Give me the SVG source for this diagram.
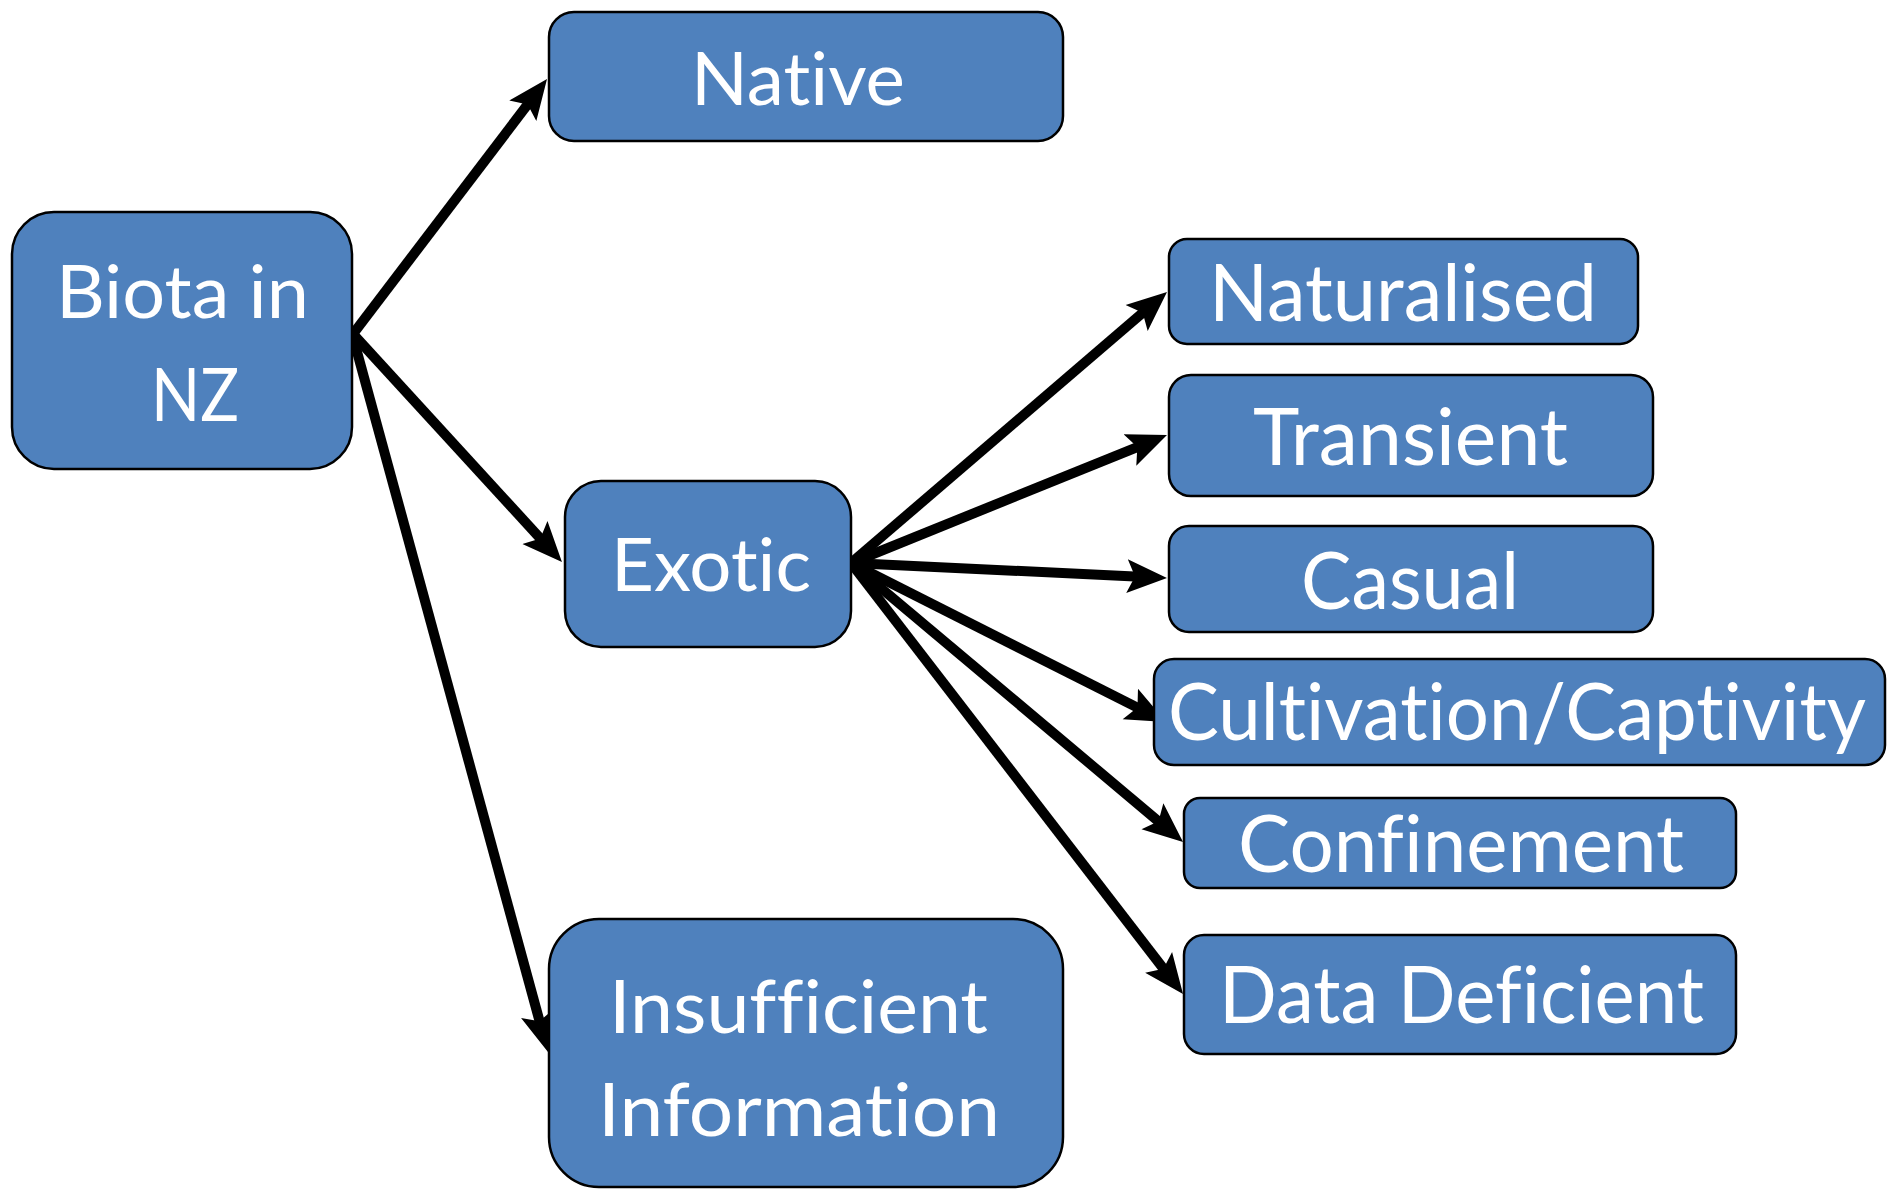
<svg xmlns="http://www.w3.org/2000/svg" width="1887" height="1189" viewBox="0 0 1887 1189">
<style>
.box{fill:#4F81BD;stroke:#000;stroke-width:2.5}
.t{font-family:Lato,"Open Sans","Liberation Sans",sans-serif;fill:#fff;font-variant-ligatures:none;font-feature-settings:"liga" 0,"clig" 0}
.l{font-size:74px}
.r{font-size:80px}
</style>
<defs>
<marker id="ah" markerUnits="userSpaceOnUse" markerWidth="40" markerHeight="40" viewBox="0 0 40 40" refX="18" refY="20" orient="auto">
<path d="M0,3 L40,20 L0,37 L8,20 Z" fill="#000"/>
</marker>
</defs>
<g id="connectors" stroke="#000" stroke-width="10" fill="none" marker-end="url(#ah)">
<line x1="353" y1="334" x2="533.7" y2="96.5"/>
<line x1="353" y1="334" x2="547.1" y2="545.8"/>
<line x1="353" y1="337" x2="542.2" y2="1030.8"/>
<line x1="851" y1="563" x2="1150.3" y2="306.3"/>
<line x1="851" y1="563" x2="1146.6" y2="443.3"/>
<line x1="851" y1="563" x2="1145.0" y2="577.0"/>
<line x1="851" y1="563" x2="1146.4" y2="712.1"/>
<line x1="851" y1="563" x2="1166.2" y2="827.8"/>
<line x1="851" y1="563" x2="1169.6" y2="976.6"/>
</g>
<g id="biota">
<rect class="box" x="12" y="212" width="340" height="257" rx="42"/>
<text class="t l" x="56" y="318" textLength="253" lengthAdjust="spacingAndGlyphs">Biota in</text>
<text class="t l" x="151" y="421" textLength="88" lengthAdjust="spacingAndGlyphs">NZ</text>
</g>
<g id="native">
<rect class="box" x="549" y="12" width="514" height="129" rx="25"/>
<text class="t l" x="691" y="105" textLength="214" lengthAdjust="spacingAndGlyphs">Native</text>
</g>
<g id="exotic">
<rect class="box" x="565" y="481" width="286" height="166" rx="36"/>
<text class="t l" x="611" y="591" textLength="200" lengthAdjust="spacingAndGlyphs">Exotic</text>
</g>
<g id="insufficient">
<rect class="box" x="549" y="919" width="514" height="268" rx="50"/>
<text class="t l" x="609" y="1033" textLength="379" lengthAdjust="spacingAndGlyphs">Insufficient</text>
<text class="t l" x="598" y="1136" textLength="402" lengthAdjust="spacingAndGlyphs">Information</text>
</g>
<g id="naturalised">
<rect class="box" x="1169" y="239" width="469" height="105" rx="18"/>
<text class="t r" x="1209" y="321" textLength="388" lengthAdjust="spacingAndGlyphs">Naturalised</text>
</g>
<g id="transient">
<rect class="box" x="1169" y="375" width="484" height="121" rx="22"/>
<text class="t r" x="1253" y="465" textLength="315" lengthAdjust="spacingAndGlyphs">Transient</text>
</g>
<g id="casual">
<rect class="box" x="1169" y="526" width="484" height="106" rx="20"/>
<text class="t r" x="1301" y="609" textLength="218" lengthAdjust="spacingAndGlyphs">Casual</text>
</g>
<g id="cultivation">
<rect class="box" x="1154" y="659" width="731" height="106" rx="20"/>
<text class="t r" x="1168" y="740" textLength="698" lengthAdjust="spacingAndGlyphs">Cultivation/Captivity</text>
</g>
<g id="confinement">
<rect class="box" x="1184" y="798" width="552" height="90" rx="16"/>
<text class="t r" x="1238" y="872" textLength="446" lengthAdjust="spacingAndGlyphs">Confinement</text>
</g>
<g id="datadeficient">
<rect class="box" x="1184" y="935" width="552" height="119" rx="20"/>
<text class="t r" x="1219" y="1023" textLength="485" lengthAdjust="spacingAndGlyphs">Data Deficient</text>
</g>
</svg>
